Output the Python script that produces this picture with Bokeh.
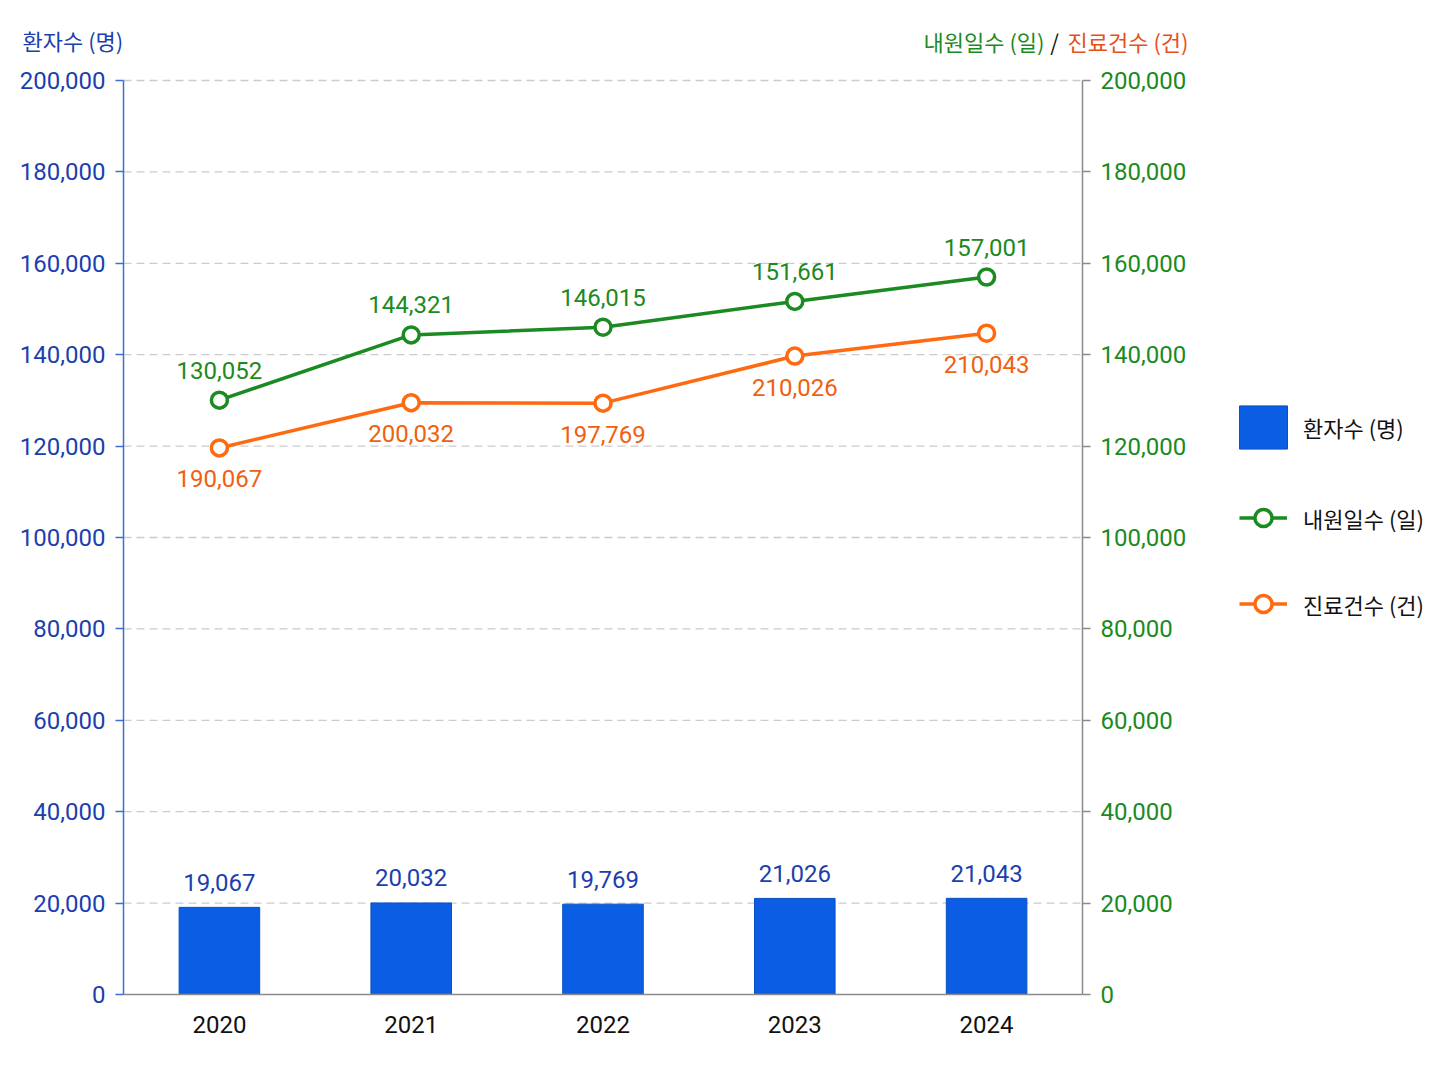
from bokeh.plotting import figure
from bokeh.models import (Range1d, LinearAxis, ColumnDataSource, LabelSet, Label,
                          Legend, LegendItem, NumeralTickFormatter, FixedTicker)
from bokeh.core.properties import value
from bokeh.embed import file_html
from bokeh.resources import INLINE

# ---- data ----
years = ["2020", "2021", "2022", "2023", "2024"]
patients = [19067, 20032, 19769, 21026, 21043]
patient_labels = ["19,067", "20,032", "19,769", "21,026", "21,043"]
visits = [130052, 144321, 146015, 151661, 157001]
visit_labels = ["130,052", "144,321", "146,015", "151,661", "157,001"]
# plotted positions of the orange series
treatments = [119600, 129500, 129400, 139700, 144700]
treatment_labels = ["190,067", "200,032", "197,769", "210,026", "210,043"]
y_ticks = [0, 20000, 40000, 60000, 80000, 100000, 120000, 140000, 160000, 180000, 200000]
Y_MAX = 200000

left_title = "환자수 (명)"
right_title_parts = ["내원일수 (일)", "/", "진료건수 (건)"]
legend_labels = ["환자수 (명)", "내원일수 (일)", "진료건수 (건)"]

# ---- layout (pixels) ----
W, H = 1432, 1070
PLOT_LEFT, PLOT_TOP, PLOT_W, PLOT_H = 123, 80, 959, 914
n = len(years)
px_per_cat = PLOT_W / n
px_per_val = PLOT_H / Y_MAX
x_start = -PLOT_LEFT / px_per_cat
x_end = x_start + W / px_per_cat
y_start = -(H - PLOT_TOP - PLOT_H) / px_per_val
y_end = y_start + H / px_per_val

NUM_FONT = "Roboto"
KR_FONT = "Noto Sans CJK KR"
NUM_SIZE = "24px"
KR_SIZE = "22px"

BLUE_TXT = "#1c3fae"
BLUE_AXIS = "#3b6fd6"
BAR = "#0b5ee4"
GREEN = "#1b8a22"
ORANGE = "#ff6a10"
ORANGE_TXT = "#f0600f"
ORANGE_TITLE = "#e8501a"
GRAY = "#8a8a8a"

xs = [i + 0.5 for i in range(n)]

p = figure(width=W, height=H, x_range=Range1d(x_start, x_end), y_range=Range1d(y_start, y_end),
           output_backend="svg", toolbar_location=None,
           min_border_left=0, min_border_right=0, min_border_top=0, min_border_bottom=0)
p.extra_y_ranges = {"right": Range1d(y_start, y_end)}
p.outline_line_color = None
p.grid.visible = False

# dashed horizontal grid lines across the category span
grid_y = y_ticks[1:]
p.segment(x0=[0] * len(grid_y), x1=[n] * len(grid_y), y0=grid_y, y1=grid_y,
          line_color="#cccccc", line_dash="8 5", line_width=1.3)

# left axis
la = p.yaxis[0]
la.fixed_location = 0
la.bounds = (0, Y_MAX)
la.ticker = FixedTicker(ticks=y_ticks)
la.formatter = NumeralTickFormatter(format="0,0")
la.axis_line_color = BLUE_AXIS
la.axis_line_width = 1.5
la.major_tick_line_color = BLUE_AXIS
la.major_tick_line_width = 1.5
la.major_tick_out = 8
la.major_tick_in = 0
la.minor_tick_line_color = None
la.major_label_text_color = BLUE_TXT
la.major_label_text_font = NUM_FONT
la.major_label_text_font_size = NUM_SIZE
la.major_label_standoff = 10

# right axis
ra = LinearAxis(y_range_name="right", ticker=FixedTicker(ticks=y_ticks),
                formatter=NumeralTickFormatter(format="0,0"))
ra.fixed_location = n
ra.bounds = (0, Y_MAX)
ra.axis_line_color = GRAY
ra.axis_line_width = 1.5
ra.major_tick_line_color = GRAY
ra.major_tick_line_width = 1.5
ra.major_tick_out = 8
ra.major_tick_in = 0
ra.minor_tick_line_color = None
ra.major_label_text_color = GREEN
ra.major_label_text_font = NUM_FONT
ra.major_label_text_font_size = NUM_SIZE
ra.major_label_standoff = 10
p.add_layout(ra, "right")

# category axis
xa = p.xaxis[0]
xa.fixed_location = 0
xa.bounds = (0, n)
xa.ticker = FixedTicker(ticks=xs)
xa.major_label_overrides = {x: yr for x, yr in zip(xs, years)}
xa.axis_line_color = GRAY
xa.axis_line_width = 1.5
xa.major_tick_line_color = None
xa.minor_tick_line_color = None
xa.major_label_text_color = "#111111"
xa.major_label_text_font = NUM_FONT
xa.major_label_text_font_size = NUM_SIZE
xa.major_label_standoff = 15

# bars
bsrc = ColumnDataSource(dict(x=xs, top=patients, lab=patient_labels))
bars = p.vbar(x="x", top="top", width=0.42, source=bsrc, fill_color=BAR,
              line_color="#0a4fc4", line_width=1)
p.add_layout(LabelSet(x="x", y="top", text="lab", source=bsrc, text_align="center",
                      text_baseline="middle", y_offset=25, text_color=BLUE_TXT,
                      text_font=value(NUM_FONT), text_font_size=NUM_SIZE))

# green line
gsrc = ColumnDataSource(dict(x=xs, y=visits, lab=visit_labels))
gl = p.line("x", "y", source=gsrc, y_range_name="right", line_color=GREEN, line_width=3.5)
gm = p.scatter("x", "y", source=gsrc, y_range_name="right", size=16, marker="circle",
               fill_color="white", line_color=GREEN, line_width=3.5)
p.add_layout(LabelSet(x="x", y="y", text="lab", source=gsrc, y_range_name="right",
                      text_align="center", text_baseline="middle", y_offset=30,
                      text_color=GREEN, text_font=value(NUM_FONT), text_font_size=NUM_SIZE))

# orange line
osrc = ColumnDataSource(dict(x=xs, y=treatments, lab=treatment_labels))
ol = p.line("x", "y", source=osrc, y_range_name="right", line_color=ORANGE, line_width=3.5)
om = p.scatter("x", "y", source=osrc, y_range_name="right", size=16, marker="circle",
               fill_color="white", line_color=ORANGE, line_width=3.5)
p.add_layout(LabelSet(x="x", y="y", text="lab", source=osrc, y_range_name="right",
                      text_align="center", text_baseline="middle", y_offset=-31,
                      text_color=ORANGE_TXT, text_font=value(NUM_FONT), text_font_size=NUM_SIZE))

# axis titles
def title(x, y_top, text, color, align):
    p.add_layout(Label(x=x, y=H - y_top, x_units="screen", y_units="screen", text=text,
                       text_color=color, text_font=KR_FONT, text_font_size=KR_SIZE,
                       text_baseline="middle", text_align=align))

title(22, 39, left_title, BLUE_TXT, "left")
title(1044, 40, right_title_parts[0], GREEN, "right")
title(1054, 40, right_title_parts[1], "#111111", "center")
title(1067, 40, right_title_parts[2], ORANGE_TITLE, "left")

# legends (bar item uses a larger glyph box so the swatch matches)
common = dict(orientation="vertical", padding=0, margin=0, label_text_font=KR_FONT,
              label_text_font_size=KR_SIZE, label_text_color="#111111",
              border_line_color=None, background_fill_alpha=0)
bar_legend = Legend(items=[LegendItem(label=legend_labels[0], renderers=[bars])],
                    location=(1233, H - 454), glyph_width=60, glyph_height=54,
                    label_standoff=10, **common)
line_legend = Legend(items=[LegendItem(label=legend_labels[1], renderers=[gl, gm]),
                            LegendItem(label=legend_labels[2], renderers=[ol, om])],
                     location=(1239, H - 625), glyph_width=48, glyph_height=43, spacing=43,
                     label_standoff=16, **common)
p.add_layout(bar_legend, "center")
p.add_layout(line_legend, "center")

open("out.html", "w").write(file_html(p, INLINE))
